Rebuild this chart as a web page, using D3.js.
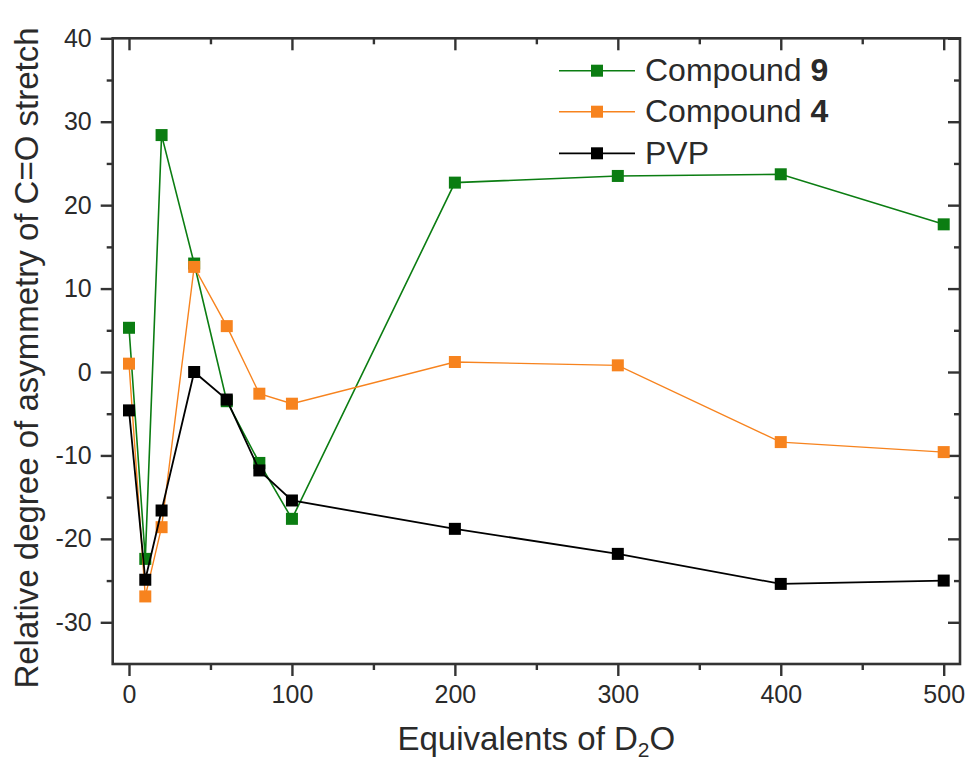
<!DOCTYPE html>
<html>
<head>
<meta charset="utf-8">
<script src="https://cdn.jsdelivr.net/npm/d3@7"></script>
<style>
  html, body { margin: 0; padding: 0; background: #fff; }
  svg { display: block; font-family: "Liberation Sans", Arial, sans-serif; }
</style>
</head>
<body>
<svg id="chart" width="969" height="768"></svg>
<script>
// Equivalents of D2O added
const equivalents = [0, 10, 20, 40, 60, 80, 100, 200, 300, 400, 500];

// Relative degree of asymmetry of the C=O stretch for each sample
const compound9 = [5.3, -22.4, 28.4, 13.0, -3.5, -10.9, -17.6, 22.7, 23.5, 23.7, 17.7];
const compound4 = [1.0, -26.9, -18.6, 12.6, 5.5, -2.6, -3.8, 1.2, 0.8, -8.4, -9.6];
const pvp       = [-4.6, -24.9, -16.6, 0.0, -3.3, -11.8, -15.4, -18.8, -21.8, -25.4, -25.0];

const xTicks = [0, 100, 200, 300, 400, 500];
const yTicks = [-30, -20, -10, 0, 10, 20, 30, 40];

const seriesList = [
  { name: "Compound ", bold: "9", values: compound9, color: "#0b7d12", width: 1.6 },
  { name: "Compound ", bold: "4", values: compound4, color: "#f7831e", width: 1.4 },
  { name: "PVP", bold: "", values: pvp, color: "#000000", width: 1.8 }
];

const svg = d3.select("#chart");
const plot = { left: 112.7, right: 960, top: 38.3, bottom: 664 };

const x = d3.scaleLinear().domain([-10, 510]).range([plot.left, plot.right]);
const y = d3.scaleLinear().domain([-35, 40]).range([plot.bottom, plot.top]);

// plain hyphen for negative numbers
const fmt = d => String(d);

const axisColor = "#333";
const majorLen = 12, minorLen = 6;
const xMinor = d3.range(50, 500, 100);
const yMinor = d3.range(-35, 40, 10).filter(v => v > -35);

// Bottom axis: outward ticks with labels
svg.append("g").attr("transform", `translate(0,${plot.bottom})`)
  .call(d3.axisBottom(x).tickValues(xTicks).tickFormat(fmt).tickSize(majorLen).tickSizeOuter(0).tickPadding(9));
svg.append("g").attr("transform", `translate(0,${plot.bottom})`)
  .call(d3.axisBottom(x).tickValues(xMinor).tickSize(minorLen).tickFormat("").tickSizeOuter(0));

// Left axis: outward ticks with labels
svg.append("g").attr("transform", `translate(${plot.left},0)`)
  .call(d3.axisLeft(y).tickValues(yTicks).tickFormat(fmt).tickSize(majorLen).tickSizeOuter(0).tickPadding(9));
svg.append("g").attr("transform", `translate(${plot.left},0)`)
  .call(d3.axisLeft(y).tickValues(yMinor).tickSize(minorLen).tickFormat("").tickSizeOuter(0));

// Top and right axes: mirrored ticks pointing into the plot
svg.append("g").attr("transform", `translate(0,${plot.top})`)
  .call(d3.axisTop(x).tickValues(xTicks).tickSize(-majorLen).tickFormat("").tickSizeOuter(0));
svg.append("g").attr("transform", `translate(0,${plot.top})`)
  .call(d3.axisTop(x).tickValues(xMinor).tickSize(-minorLen).tickFormat("").tickSizeOuter(0));
svg.append("g").attr("transform", `translate(${plot.right},0)`)
  .call(d3.axisRight(y).tickValues(yTicks).tickSize(-majorLen).tickFormat("").tickSizeOuter(0));
svg.append("g").attr("transform", `translate(${plot.right},0)`)
  .call(d3.axisRight(y).tickValues(yMinor).tickSize(-minorLen).tickFormat("").tickSizeOuter(0));

svg.selectAll(".domain").remove();
svg.selectAll(".tick line").attr("stroke", axisColor).attr("stroke-width", 2.4);
svg.selectAll(".tick text").attr("fill", "#2a2a2a").style("font-size", "25px")
  .style("font-family", "'Liberation Sans', Arial, sans-serif");

// Frame
svg.append("rect")
  .attr("x", plot.left).attr("y", plot.top)
  .attr("width", plot.right - plot.left).attr("height", plot.bottom - plot.top)
  .attr("fill", "none").attr("stroke", axisColor).attr("stroke-width", 2.6);

// Series lines and square markers
const markerSize = 12;
const line = d3.line().x(d => x(d[0])).y(d => y(d[1]));
seriesList.forEach(s => {
  const pts = equivalents.map((e, i) => [e, s.values[i]]);
  const g = svg.append("g");
  g.append("path").datum(pts)
    .attr("d", line).attr("fill", "none")
    .attr("stroke", s.color).attr("stroke-width", s.width);
  g.selectAll("rect").data(pts).join("rect")
    .attr("x", d => x(d[0]) - markerSize / 2)
    .attr("y", d => y(d[1]) - markerSize / 2)
    .attr("width", markerSize).attr("height", markerSize)
    .attr("fill", s.color);
});

// Legend
const legend = svg.append("g");
const legendRows = [70.7, 111.7, 153.3];
seriesList.forEach((s, i) => {
  const row = legend.append("g").attr("transform", `translate(0,${legendRows[i]})`);
  row.append("line").attr("x1", 559).attr("x2", 635).attr("y1", 0).attr("y2", 0)
    .attr("stroke", s.color).attr("stroke-width", s.width);
  row.append("rect").attr("x", 597 - markerSize / 2).attr("y", -markerSize / 2)
    .attr("width", markerSize).attr("height", markerSize).attr("fill", s.color);
  const t = row.append("text").attr("x", 645).attr("y", 10.5)
    .style("font-size", "32px").attr("fill", "#2a2a2a");
  t.append("tspan").text(s.name);
  if (s.bold) t.append("tspan").attr("font-weight", "bold").text(s.bold);
});

// Axis titles
const xTitle = svg.append("text")
  .attr("x", (plot.left + plot.right) / 2).attr("y", 750)
  .attr("text-anchor", "middle").style("font-size", "33px").attr("fill", "#2a2a2a");
xTitle.append("tspan").text("Equivalents of D");
xTitle.append("tspan").attr("dy", 7).style("font-size", "21px").text("2");
xTitle.append("tspan").attr("dy", -7).text("O");

svg.append("text")
  .attr("transform", "translate(38,358) rotate(-90)")
  .attr("text-anchor", "middle").style("font-size", "33px").attr("fill", "#2a2a2a")
  .text("Relative degree of asymmetry of C=O stretch");
</script>
</body>
</html>
